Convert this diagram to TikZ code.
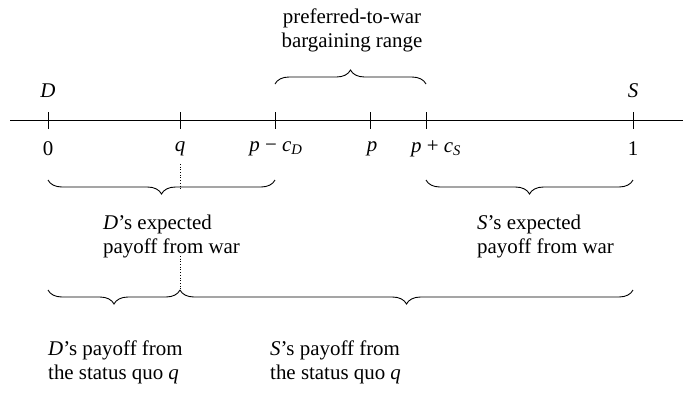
\documentclass[tikz,border=0pt]{standalone}
\usepackage{fontspec}
\setmainfont{Liberation Serif}
\usetikzlibrary{decorations.pathreplacing}
\begin{document}
\begin{tikzpicture}[x=1bp,y=-1bp,
  lbl/.style={font=\fontsize{21}{24}\selectfont, inner sep=0pt},
  txt/.style={font=\fontsize{21}{24}\selectfont, inner sep=0pt, align=left, anchor=north west},
  tickmark/.style={line width=0.9pt},
  br/.style={decorate, decoration={brace, amplitude=14bp}, line width=0.9pt},
  brm/.style={decorate, decoration={brace, amplitude=14bp, mirror}, line width=0.9pt}]
\useasboundingbox (0,0) rectangle (683,399);
% axis
\coordinate (L) at (10,120);
\coordinate (R) at (683,120);
\draw[line width=0.9pt] (L) -- (R);
\foreach \n/\x in {t0/48, tq/180, tpd/275, tp/370, tps/426, t1/633}{
  \coordinate (\n) at (\x,120);
  \draw[tickmark] (\x,112) -- (\x,129);
}
\node[lbl] (D) at (48,91) {\textit{D}};
\node[lbl] (S) at (633,91) {\textit{S}};
\node[lbl] (l0) at (48,149) {0};
\node[lbl] (lq) at (180,149) {\textit{q}};
\node[lbl] (lpd) at (276,149) {\textit{p} − \textit{c}\textsubscript{\textit{D}}};
\node[lbl] (lp) at (372,149) {\textit{p}};
\node[lbl, anchor=west] (lps) at (411,149) {\textit{p} + \textit{c}\textsubscript{\textit{S}}};
\node[lbl] (l1) at (633,149) {1};
% top brace
\coordinate (ta) at (275,84);
\coordinate (tb) at (426,84);
\draw[br] (ta) -- (tb);
\node[lbl, align=center] (top) at (352,30) {preferred-to-war\\bargaining range};
% war braces
\coordinate (da) at (48,180);
\coordinate (db) at (275,180);
\draw[brm] (da) -- (db);
\coordinate (sa) at (426,180);
\coordinate (sb) at (633,180);
\draw[brm] (sa) -- (sb);
\node[txt] (dw) at (103,215) {\textit{D}’s expected\\payoff from war};
\node[txt] (sw) at (477,215) {\textit{S}’s expected\\payoff from war};
% bottom braces
\coordinate (ba) at (48,290);
\coordinate (bq) at (180,290);
\coordinate (bb) at (633,290);
\draw[brm] (ba) -- (bq);
\draw[brm] (bq) -- (bb);
\draw[dotted, line width=0.7pt] (180,164) -- (180,190);
\draw[dotted, line width=0.7pt] (180,256) -- (bq);
\node[txt] (dq) at (48,341) {\textit{D}’s payoff from\\the status quo \textit{q}};
\node[txt] (sq) at (270,341) {\textit{S}’s payoff from\\the status quo \textit{q}};
\end{tikzpicture}
\end{document}
